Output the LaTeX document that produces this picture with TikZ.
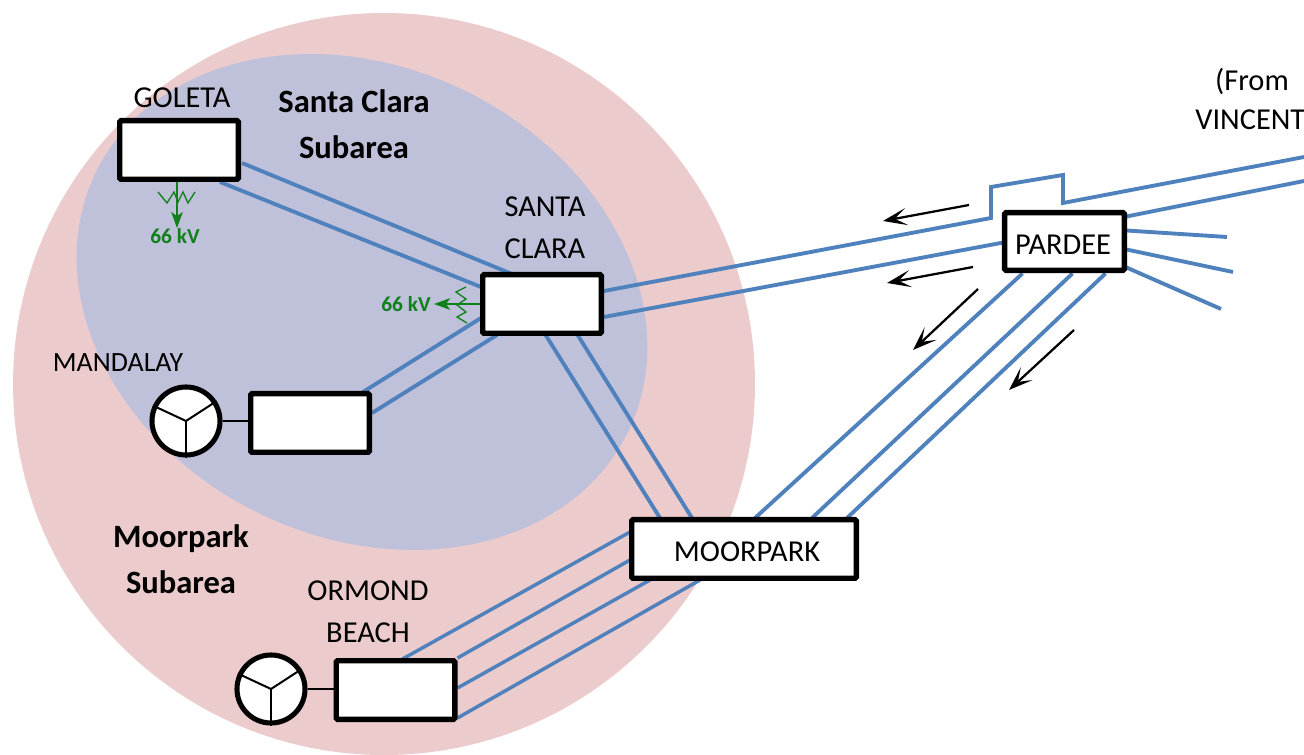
\documentclass[tikz,border=0pt]{standalone}
\usepackage{fontspec}
\setmainfont{Carlito}
\usetikzlibrary{calc,backgrounds,arrows.meta}
\definecolor{outerarea}{HTML}{EBCBCB}
\definecolor{innerarea}{HTML}{BFC0D9}
\definecolor{linecol}{HTML}{4F81BD}
\definecolor{loadcol}{HTML}{0F801A}
\tikzset{
 x=0.75pt,y=-0.75pt,
 busbox/.style={draw=black,fill=white,line width=4pt,rounded corners=1pt,inner sep=0pt,minimum width=89pt,minimum height=44pt},
 gen/.style={circle,draw=black,fill=white,line width=3.8pt,inner sep=0pt,minimum size=51pt},
 line/.style={draw=linecol,line width=2.9pt,line join=miter},
 linethin/.style={draw=linecol,line width=2.6pt},
 thin/.style={draw=black,line width=1.5pt},
 flow/.style={draw=black,line width=1.7pt,-{Stealth[length=18pt,width=13pt,inset=9pt]}},
 load/.style={draw=loadcol,line width=2.2pt,-{Stealth[length=12pt,width=8.5pt,inset=3pt]}},
 zig/.style={draw=loadcol,line width=1pt},
 lab/.style={font=\fontsize{22.8}{31.5}\selectfont,inner sep=0pt,align=center,text=black},
 area/.style={font=\fontsize{24.4}{34.5}\bfseries\selectfont,inner sep=0pt,align=center,text=black},
 kv/.style={font=\fontsize{16}{18}\bfseries\selectfont,inner sep=0pt,text=loadcol},
}
\begin{document}
\begin{tikzpicture}
\useasboundingbox (0,0) rectangle (1304,755);
\node[busbox] (goleta) at (179,150) {};
\node[busbox] (santa) at (542,304) {};
\node[busbox] (mandbus) at (310,423) {};
\node[busbox] (ormbus) at (395.5,690) {};
\node[busbox,minimum width=168.5pt] (moor) at (744,549) {};
\node[busbox,minimum width=89.8pt,minimum height=43.3pt] (pardee) at (1064.5,241.5) {};
\node[lab] (tmoor) at (747,552) {MOORPARK};
\node[lab] (tpardee) at (1063,245) {PARDEE};
\node[gen] (mandgen) at (186,421) {};
\node[gen] (ormgen) at (271,689) {};
\coordinate (edgeA) at (1304,157);
\coordinate (edgeB) at (1304,181);
\coordinate (fanA) at (1227,237);
\coordinate (fanB) at (1233,272);
\coordinate (fanC) at (1221,309);
\coordinate (stepA) at (991,218);
\coordinate (stepB) at (991,187);
\coordinate (stepC) at (1063,175);
\coordinate (stepD) at (1063,203);
\begin{scope}[on background layer]
\fill[outerarea] (384,384) circle [radius=371];
\fill[innerarea,rotate around={-26:(362,302)}] (362,302) ellipse [x radius=296,y radius=235];
\draw[line] ($(goleta)+(63,13)$) -- ($(santa)+(-30,-30)$);
\draw[line] ($(goleta)+(41,32)$) -- ($(santa)+(-61,-17)$);
\draw[line] ($(mandbus)+(53,-31)$) -- ($(santa)+(-61,14)$);
\draw[line] ($(mandbus)+(62,-10)$) -- ($(santa)+(-45,31)$);
\draw[line] ($(santa)+(3,30)$) -- ($(moor)+(-84,-31)$);
\draw[line] ($(santa)+(35,30)$) -- ($(moor)+(-52,-31)$);
\draw[line] ($(santa)+(62,-13)$) -- (stepA) -- (stepB) -- (stepC) -- (stepD) -- (edgeA);
\draw[line] ($(santa)+(62,13)$) -- ($(pardee)+(-61,1)$);
\draw[line] ($(pardee)+(62,-25)$) -- (edgeB);
\draw[line] ($(pardee)+(62,-11)$) -- (fanA);
\draw[line] ($(pardee)+(62,8)$) -- (fanB);
\draw[line] ($(pardee)+(62,26)$) -- (fanC);
\draw[line] ($(pardee)+(-42,32)$) -- ($(moor)+(11,-31)$);
\draw[line] ($(pardee)+(8,32)$) -- ($(moor)+(68,-31)$);
\draw[line] ($(pardee)+(41,32)$) -- ($(moor)+(103,-31)$);
\draw[linethin] ($(moor)+(-114,-17)$) -- ($(ormbus)+(7,-31)$);
\draw[linethin] ($(moor)+(-114,11)$) -- ($(ormbus)+(62,-32)$);
\draw[linethin] ($(moor)+(-94,31)$) -- ($(ormbus)+(62,-2)$);
\draw[linethin] ($(moor)+(-44,31)$) -- ($(ormbus)+(62,28)$);
\end{scope}
% generators
\draw[thin] (mandgen.east) -- (mandgen.east -| mandbus.west);
\draw[thin] (ormgen.east) -- (ormgen.east -| ormbus.west);
\draw[thin] (mandgen.center) -- (mandgen.south);
\draw[thin] (mandgen.center) -- (mandgen.33);
\draw[thin] (mandgen.center) -- (mandgen.155);
\draw[thin] (ormgen.center) -- (ormgen.south);
\draw[thin] (ormgen.center) -- (ormgen.33);
\draw[thin] (ormgen.center) -- (ormgen.155);
% flow arrows
\coordinate (fa1) at (969,205); \coordinate (fb1) at (883,221);
\coordinate (fa2) at (973,267); \coordinate (fb2) at (887,283);
\coordinate (fa3) at (978,289); \coordinate (fb3) at (913,350);
\coordinate (fa4) at (1074,330); \coordinate (fb4) at (1009,390);
\draw[flow] (fa1) -- (fb1);
\draw[flow] (fa2) -- (fb2);
\draw[flow] (fa3) -- (fb3);
\draw[flow] (fa4) -- (fb4);
% loads
\node[kv] (kvg) at (175,236) {66 kV};
\node[kv] (kvs) at (406,304) {66 kV};
\coordinate (gs) at ($(goleta.south)+(-2,0)$);
\draw[load] (gs) -- (gs |- kvg.north);
\draw[zig] (158,192) -- (167,203) -- (174,192) -- (178,202) -- (183,192) -- (188,203) -- (195,192);
\draw[load] (santa.west) -- ($(kvs.east)+(3,0)$);
\draw[zig] (466,287) -- (456,292) -- (466,299) -- (457,305) -- (466,312) -- (457,317) -- (467,323);
% labels
\node[lab] (tgoleta) at (182,98) {GOLETA};
\node[lab] (tsanta) at (545,228) {SANTA\\CLARA};
\node[lab,font=\fontsize{20.9}{31.5}\selectfont] (tmand) at (118,363) {MANDALAY};
\node[lab] (torm) at (368,612) {ORMOND\\BEACH};
\node[lab] (tfrom) at (1252,82) {(From};
\node[lab,anchor=west] (tvin) at (1195,120) {VINCENT};
\node[area] (tsc) at (354,124) {Santa Clara\\Subarea};
\node[area] (tmp) at (181,559) {Moorpark\\Subarea};
\end{tikzpicture}
\end{document}
